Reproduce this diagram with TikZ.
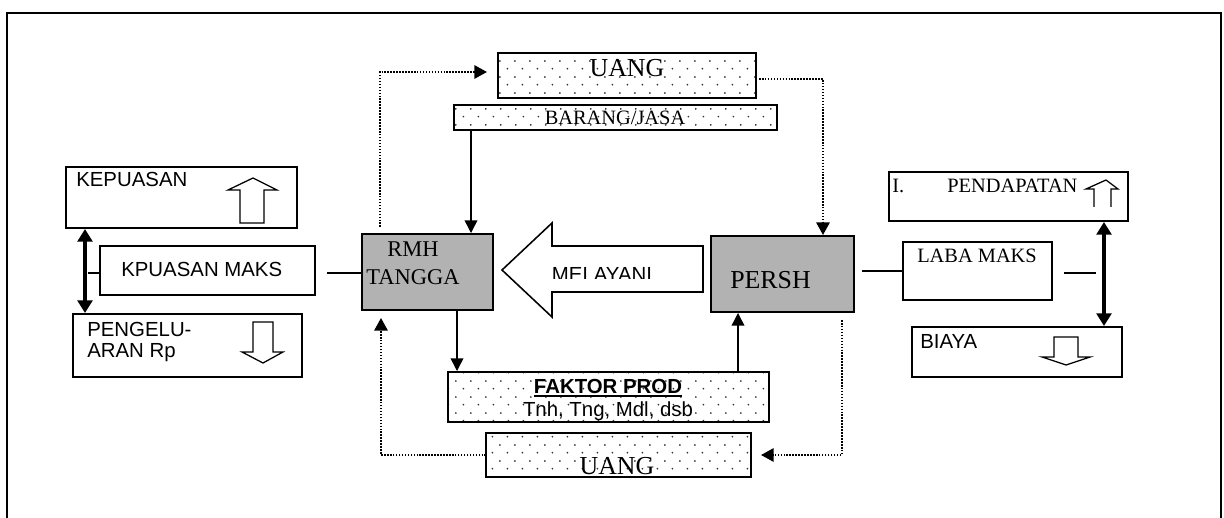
\documentclass[tikz,border=0pt]{standalone}
\usepackage{fontspec}
\setmainfont{Liberation Serif}
\setsansfont{Liberation Sans}
\usetikzlibrary{arrows.meta,fit,patterns}

\pgfdeclarepatternformonly{sparsedots}{\pgfqpoint{0pt}{0pt}}{\pgfqpoint{10.6pt}{11.4pt}}{\pgfqpoint{10.6pt}{11.4pt}}{%
  \pgfpathcircle{\pgfqpoint{1pt}{1pt}}{0.7pt}%
  \pgfpathcircle{\pgfqpoint{6.3pt}{6.7pt}}{0.7pt}%
  \pgfusepath{fill}}

\tikzset{
  box/.style={draw, line width=1.4pt, inner sep=0pt},
  dotbox/.style={box, pattern=sparsedots, pattern color=black!80},
  graybox/.style={box, fill=black!30},
  hollow/.style={draw, line width=0.9pt, line join=miter, fill=white},
  sanstxt/.style={font=\sffamily\fontsize{14.5}{17}\selectfont, inner sep=0pt},
  seriftxt/.style={font=\fontsize{14.5}{17}\selectfont, inner sep=0pt},
  bigserif/.style={font=\fontsize{16}{18}\selectfont, inner sep=0pt},
  hugeserif/.style={font=\fontsize{18.4}{20}\selectfont, inner sep=0pt},
  solidarrow/.style={line width=1pt, -{Triangle[length=9pt,width=9pt]}},
  dotarrow/.style={line width=1.4pt, dash pattern=on 1.1pt off 1pt, -{Triangle[length=9pt,width=9.5pt]}},
  dblarrow/.style={line width=2.2pt, {Triangle[length=9pt,width=10.5pt]}-{Triangle[length=9pt,width=10.5pt]}},
  plainline/.style={line width=1pt},
}

\begin{document}
\begin{tikzpicture}[x=0.025cm, y=-0.025cm]
\useasboundingbox (0,0) rectangle (1224,518);

% outer frame
\draw[line width=1.6pt] (7,540) -- (7,13) -- (1221,13) -- (1221,540);

% ---------- boxes ----------
\node[dotbox, fit={(498,53) (756,98)}] (uang1) {};
\node[dotbox, fit={(454,105) (777,130)}] (bj) {};
\node[graybox, fit={(362,234) (493,310)}] (rmh) {};
\node[graybox, fit={(711,236) (854,312)}] (persh) {};
\node[dotbox, fit={(448,372) (769,422)}] (fak) {};
\node[dotbox, fit={(486,433) (751,477)}] (uang2) {};

\node[box, fit={(66,167) (297,228)}] (kep) {};
\node[box, fit={(100,246) (315,295)}] (kmaks) {};
\node[box, fit={(73,314) (302,377)}] (peng) {};

\node[box, fit={(889,172) (1128,221)}] (pend) {};
\node[box, fit={(903,242) (1052,300)}] (laba) {};
\node[box, fit={(912,327) (1122,377)}] (biaya) {};

% ---------- texts ----------
\node[hugeserif, anchor=base] (tuang1) at (627,77) {UANG};
\node[seriftxt, anchor=base] (tbj) at (615,125) {BARANG/JASA};
\node[bigserif, anchor=base] (trmh1) at (413,257) {RMH};
\node[bigserif, anchor=base] (trmh2) at (413,284) {TANGGA};
\node[hugeserif, anchor=base west] (tpersh) at (730,288) {PERSH};
\node[sanstxt, anchor=base] (tfak1) at (608,393) {\bfseries FAKTOR PROD};
\draw[line width=1.4pt] ([yshift=-2.2pt]tfak1.base west) -- ([yshift=-2.2pt]tfak1.base east);
\node[sanstxt, anchor=base] (tfak2) at (608,416) {Tnh, Tng, Mdl, dsb};
\node[hugeserif, anchor=base] (tuang2) at (617,474) {UANG};

\node[sanstxt, anchor=base west] (tkep) at (76,187) {KEPUASAN};
\node[sanstxt, anchor=base west] (tkmaks) at (121,276) {KPUASAN MAKS};
\node[sanstxt, anchor=base west] (tpeng1) at (87,336) {PENGELU-};
\node[sanstxt, anchor=base west] (tpeng2) at (87,357) {ARAN Rp};

\node[seriftxt, anchor=base west] (tpend0) at (892,193) {I.};
\node[seriftxt, anchor=base west] (tpend) at (947,193) {PENDAPATAN};
\node[seriftxt, anchor=base west] (tlaba) at (917,263) {LABA MAKS};
\node[sanstxt, anchor=base west] (tbiaya) at (920,348) {BIAYA};

% ---------- big hollow arrow MELAYANI ----------
\draw[hollow, line width=1.1pt] (502,270) -- (552,223) -- (552,246) -- (703,246) -- (703,292)
  -- (552,292) -- (552,317) -- cycle;
\begin{scope}
  \clip (540,255) rectangle (690,278.8);
  \node[sanstxt, anchor=base] (tmel) at (602,281.6) {MELAYANI};
\end{scope}

% ---------- small hollow arrows ----------
\draw[hollow] (240,223) -- (240,190) -- (228,190) -- (253,178) -- (277,190) -- (264,190) -- (264,223) -- cycle;
\draw[hollow] (253,322) -- (273,322) -- (273,352) -- (283,352) -- (263,363) -- (242,352) -- (253,352) -- cycle;
\draw[hollow] (1094,207) -- (1094,189) -- (1086,189) -- (1106,180) -- (1118,189) -- (1111,189) -- (1111,207);
\draw[hollow] (1054,337) -- (1078,337) -- (1078,357) -- (1090,357) -- (1066,365) -- (1042,357) -- (1054,357) -- cycle;

% ---------- solid arrows ----------
\coordinate (xa) at (471,0);
\coordinate (xb) at (457,0);
\coordinate (xc) at (738,0);
\draw[solidarrow] (bj.south -| xa) -- (rmh.north -| xa);
\draw[solidarrow] (rmh.south -| xb) -- (fak.north -| xb);
\draw[solidarrow] (fak.north -| xc) -- (persh.south -| xc);

% ---------- dotted arrows ----------
\coordinate (d1) at (380,227);
\coordinate (d1e) at (487,72);
\draw[dotarrow] (d1) |- (d1e);
\coordinate (d2) at (759,79);
\coordinate (d2c) at (823,79);
\draw[dotarrow] (d2) -- (d2c) -- (persh.north -| d2c);
\coordinate (d3) at (842,320);
\coordinate (d3e) at (761,455);
\draw[dotarrow] (d3) |- (d3e);
\coordinate (d4) at (486,455);
\coordinate (d4e) at (381,318);
\draw[dotarrow] (d4) -| (d4e);

% ---------- plain lines ----------
\coordinate (kl) at (327,273);
\draw[plainline] (kl) -- (kl -| rmh.west);
\coordinate (pl) at (862,271);
\draw[plainline] (pl) -- (laba.west);
\coordinate (ll1) at (1064,273);
\coordinate (ll2) at (1096,273);
\draw[plainline] (ll1) -- (ll2);

% ---------- double arrows ----------
\coordinate (lx) at (85,0);
\draw[dblarrow] (kep.south -| lx) -- (peng.north -| lx);
\coordinate (tk) at (88,273);
\draw[line width=1.8pt] (tk) -- (tk -| kmaks.west);
\coordinate (rx) at (1104,0);
\draw[dblarrow] (pend.south -| rx) -- (biaya.north -| rx);

\end{tikzpicture}
\end{document}
